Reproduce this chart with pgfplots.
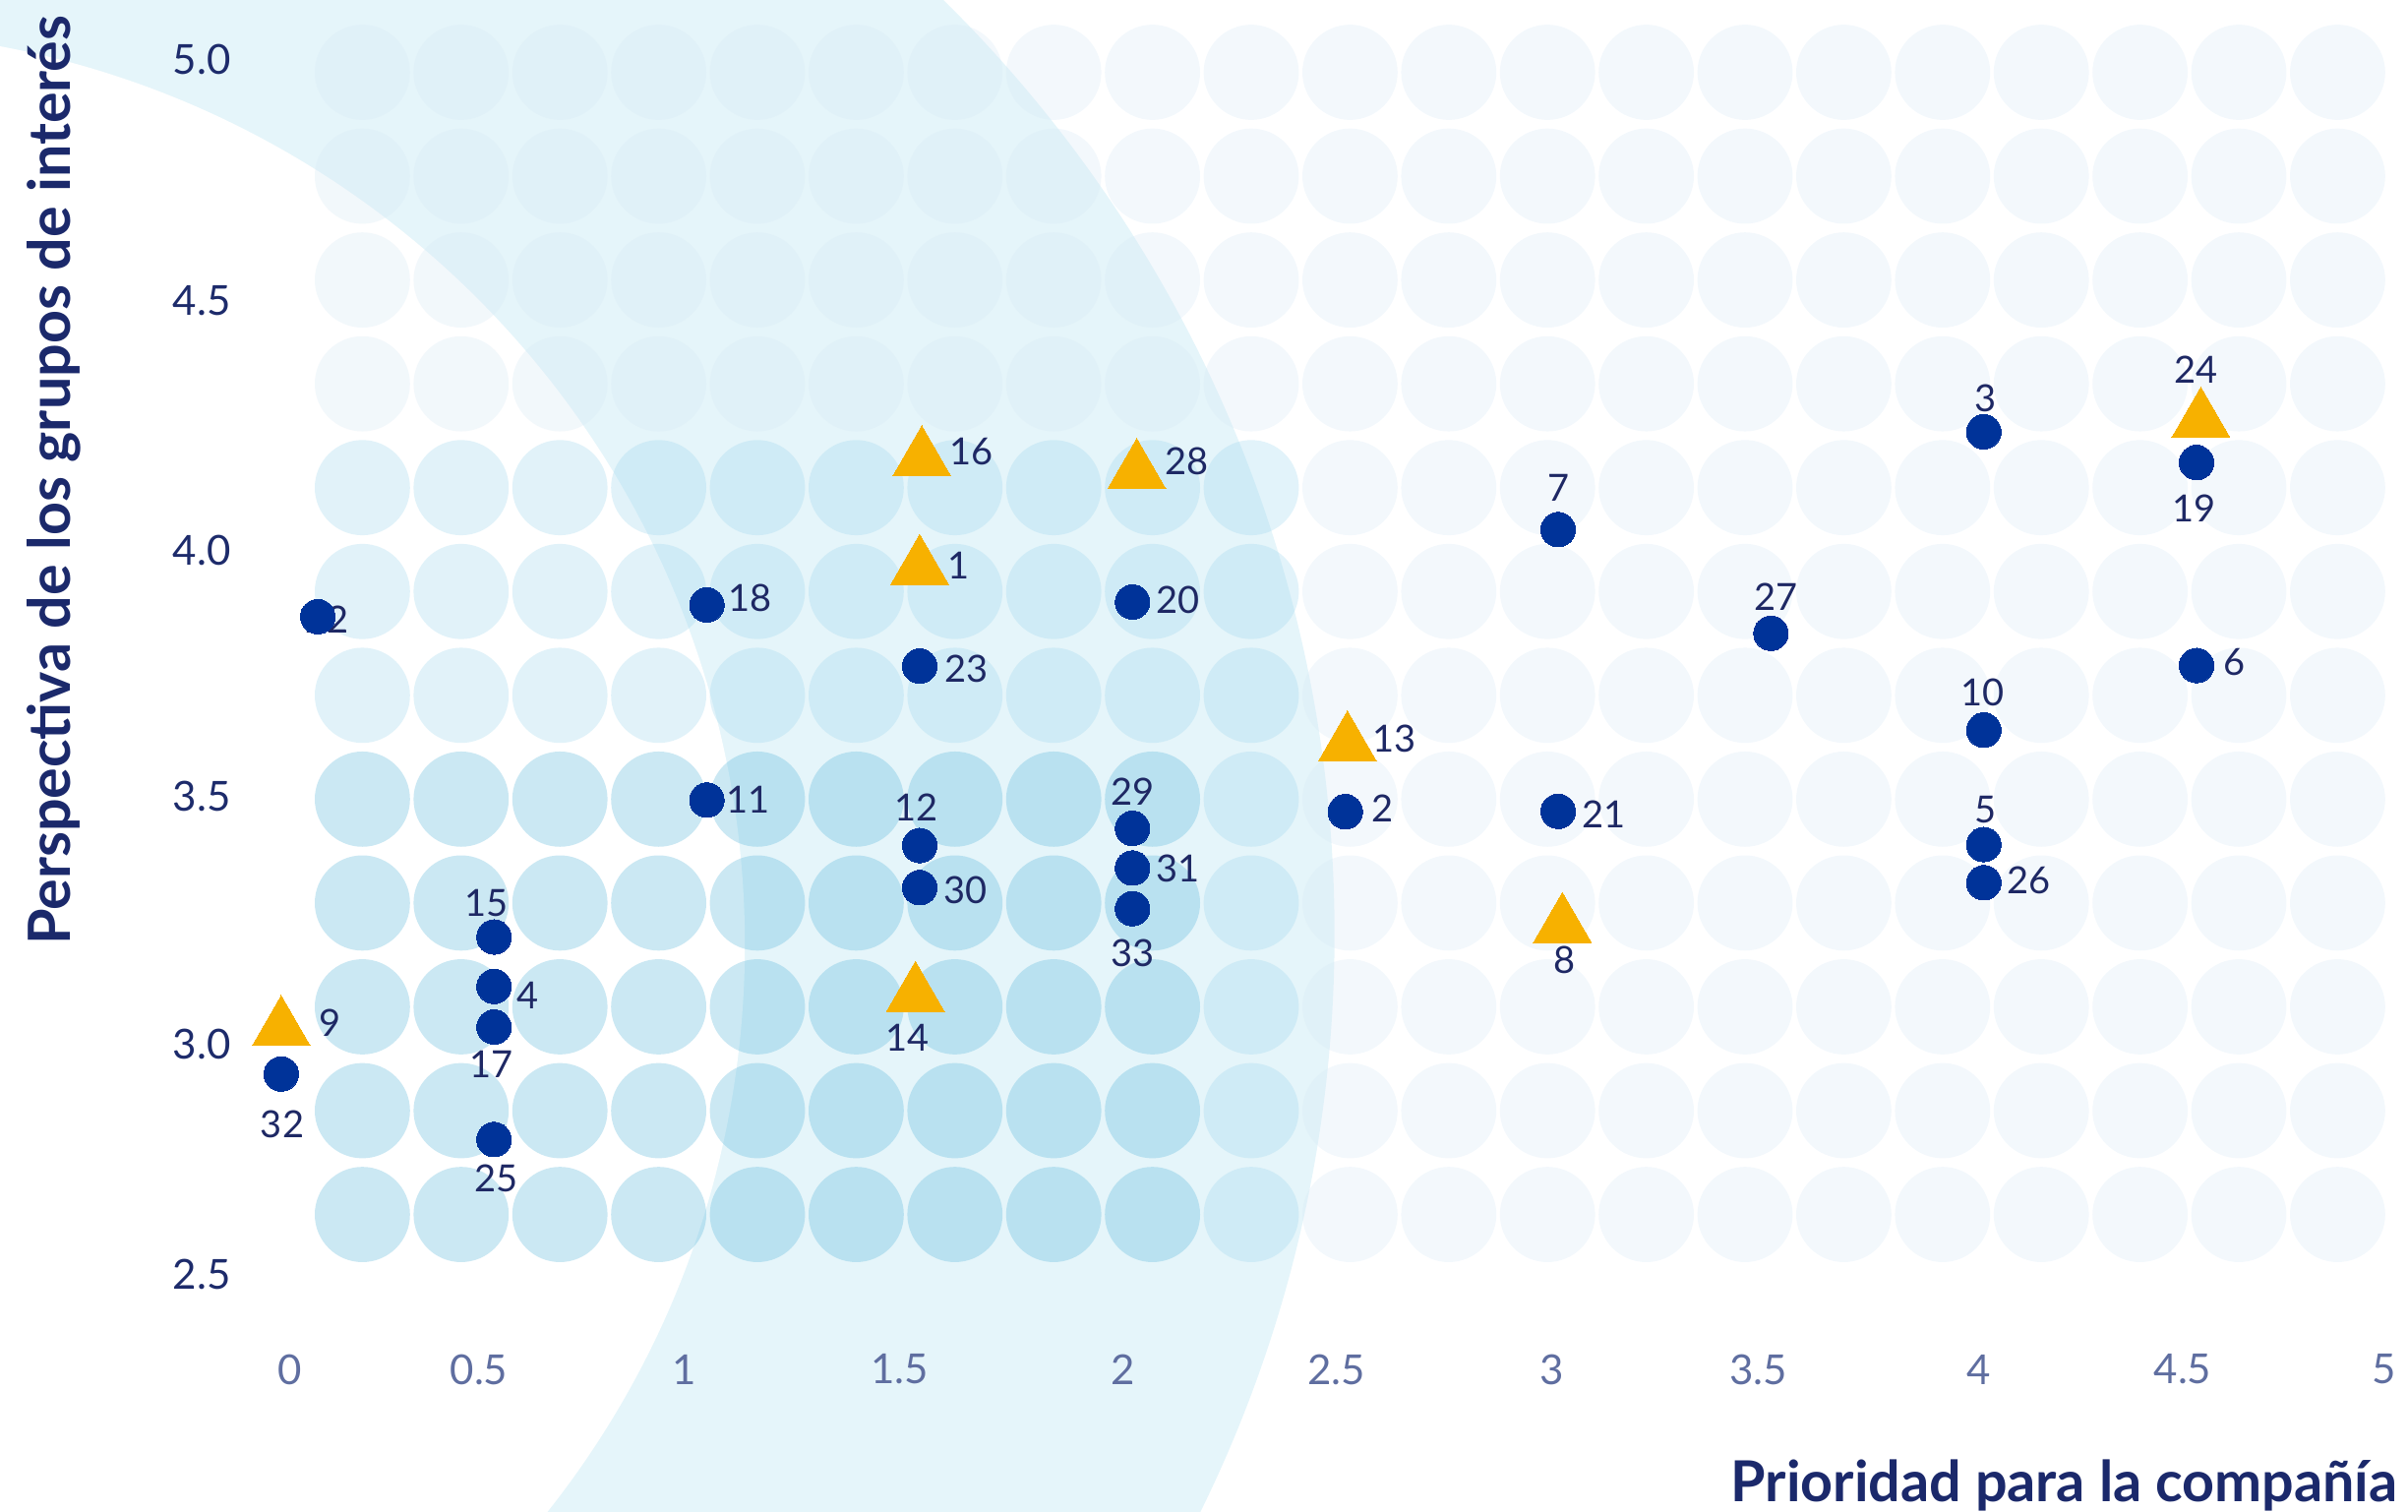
\documentclass[border=0pt]{standalone}
\usepackage{fontspec}
\setmainfont{Lato}
\usepackage{pgfplots}
\usepackage{pgfplotstable}
\pgfplotsset{compat=1.18}
\definecolor{navy}{RGB}{0,51,153}
\definecolor{lab}{RGB}{30,40,100}
\definecolor{ytk}{RGB}{29,43,107}
\definecolor{xtk}{RGB}{95,110,160}
\definecolor{ttl}{RGB}{27,41,107}
\definecolor{tri}{RGB}{247,177,0}
\definecolor{band}{RGB}{229,245,250}
\definecolor{cpale}{RGB}{215,232,245}
\definecolor{clight}{RGB}{158,215,238}
\definecolor{cmed}{RGB}{85,182,218}

\pgfplotstableread{
x y lab dx dy
0.086 3.857 22 9.3 -3.2
1.0 3.881 18 44.1 6.9
2.0 3.887 20 46.3 2.3
1.5 3.756 23 47.7 -3.2
1.0 3.482 11 41.5 0
1.5 3.389 12 -3.7 39.2
1.5 3.303 30 47.0 -2.4
2.0 3.424 29 0.5 37.3
2.0 3.343 31 46.3 -0.4
2.0 3.260 33 0 -45.7
2.5 3.458 2 37.7 3.4
3.0 3.459 21 46.4 -3.1
3.0 4.035 7 0.8 42.9
4.0 4.235 3 1.7 34.1
4.5 4.172 19 -2.3 -46.7
3.5 3.823 27 4.8 36.7
4.5 3.757 6 38.7 3.1
4.0 3.625 10 -1.4 38.4
4.0 3.391 5 1.5 35.2
4.0 3.313 26 45.8 2.2
0.0 2.922 32 1.1 -51.4
0.5 3.202 15 -7.4 34.9
0.5 3.101 4 34.3 -9.5
0.5 3.018 17 -3.1 -37.9
0.5 2.788 25 1.8 -39.2
}\circdata

\pgfplotstableread{
x y lab dx dy
1.505 4.179 16 50.1 7.4
2.01 4.153 28 50.9 10.7
1.5 3.957 1 39.5 2.7
2.505 3.596 13 47.2 5.6
1.49 3.084 14 -7.7 -44.1
3.01 3.225 8 2 -34.8
4.51 4.258 24 -5.2 51.6
0.0 3.014 9 49.4 6.1
}\tridata

\begin{document}
\begin{tikzpicture}
\path[use as bounding box] (0pt,0pt) rectangle (612pt,384pt);
% background decoration in pixel units (origin top-left)
\begin{scope}[shift={(0pt,384pt)}, x=0.25pt, y=-0.25pt]
  \clip (0,0) rectangle (2448,1536);
  \fill[band] (25,949.2) circle[radius=1331.7];
  \fill[white] (-171.7,960.1) circle[radius=928.9];
  \foreach \i in {0,...,20}{
    \foreach \j in {0,...,11}{
      \pgfmathtruncatemacro{\cls}{(\i>9 || \j<4) ? 0 : ((\j<7 || \i>8) ? 1 : 2)}
      \ifcase\cls \def\cc{cpale}\or \def\cc{clight}\or \def\cc{cmed}\fi
      \fill[\cc, opacity=0.3] ({368.4+100.4*\i},{73.5+105.55*\j}) circle[radius=48.4];
    }
  }
\end{scope}

\begin{axis}[
  at={(0pt,0pt)}, anchor=south west,
  scale only axis, width=612pt, height=384pt,
  xmin=-0.66073, xmax=4.99676, ymin=2.02836, ymax=5.11766,
  axis line style={draw=none},
  major tick length=0pt, tick style={draw=none},
  clip=false,
  /pgf/number format/assume math mode=true,
  xtick={0.0206,0.4648,0.9478,1.4537,1.9781,2.4789,2.9861,3.4701,3.9892,4.4675,4.9413},
  xticklabels={0,0.5,1,1.5,2,2.5,3,3.5,4,4.5,5},
  xticklabel style={anchor=center, yshift=36pt, inner sep=0pt, text=xtk, font=\fontsize{10.5}{12}\selectfont},
  ytick={2.5131,2.9829,3.4899,3.9929,4.5034,4.9960},
  yticklabels={2.5,3.0,3.5,4.0,4.5,5.0},
  yticklabel style={anchor=west, xshift=43.75pt, inner sep=0pt, text=ytk, font=\fontsize{10.5}{12}\selectfont},
  xlabel={Prioridad para la compañía},
  ylabel={Perspectiva de los grupos de interés},
  every axis x label/.style={at={(axis description cs:0.99592,0.00651)}, anchor=base east, inner sep=0pt, text=ttl, font=\fontsize{14.35}{16}\selectfont\bfseries},
  every axis y label/.style={at={(axis description cs:0.02929,0.99023)}, rotate=90, anchor=base east, inner sep=0pt, text=ttl, font=\fontsize{14.8}{16}\selectfont\bfseries},
]
% labels first (markers drawn on top)
\addplot[draw=none, mark=none, point meta=explicit symbolic,
  visualization depends on={\thisrow{dx} \as \ldx},
  visualization depends on={\thisrow{dy} \as \ldy},
  nodes near coords,
  nodes near coords style={anchor=center, inner sep=0pt, xshift=\ldx*0.25pt, yshift=\ldy*0.25pt, text=lab, font=\fontsize{9.5}{11}\selectfont}]
  table[x=x, y=y, meta=lab]{\circdata};
\addplot[draw=none, mark=none, point meta=explicit symbolic,
  visualization depends on={\thisrow{dx} \as \ldx},
  visualization depends on={\thisrow{dy} \as \ldy},
  nodes near coords,
  nodes near coords style={anchor=center, inner sep=0pt, xshift=\ldx*0.25pt, yshift=\ldy*0.25pt, text=lab, font=\fontsize{9.5}{11}\selectfont}]
  table[x=x, y=y, meta=lab]{\tridata};
% markers
\addplot[only marks, mark=*, mark size=4.4pt, mark options={fill=navy, draw=navy, line width=0pt}]
  table[x=x, y=y]{\circdata};
\addplot[only marks, mark=triangle*, mark size=8.5pt, mark options={fill=tri, draw=tri, line width=0pt}]
  table[x=x, y=y]{\tridata};
\end{axis}
\end{tikzpicture}
\end{document}
